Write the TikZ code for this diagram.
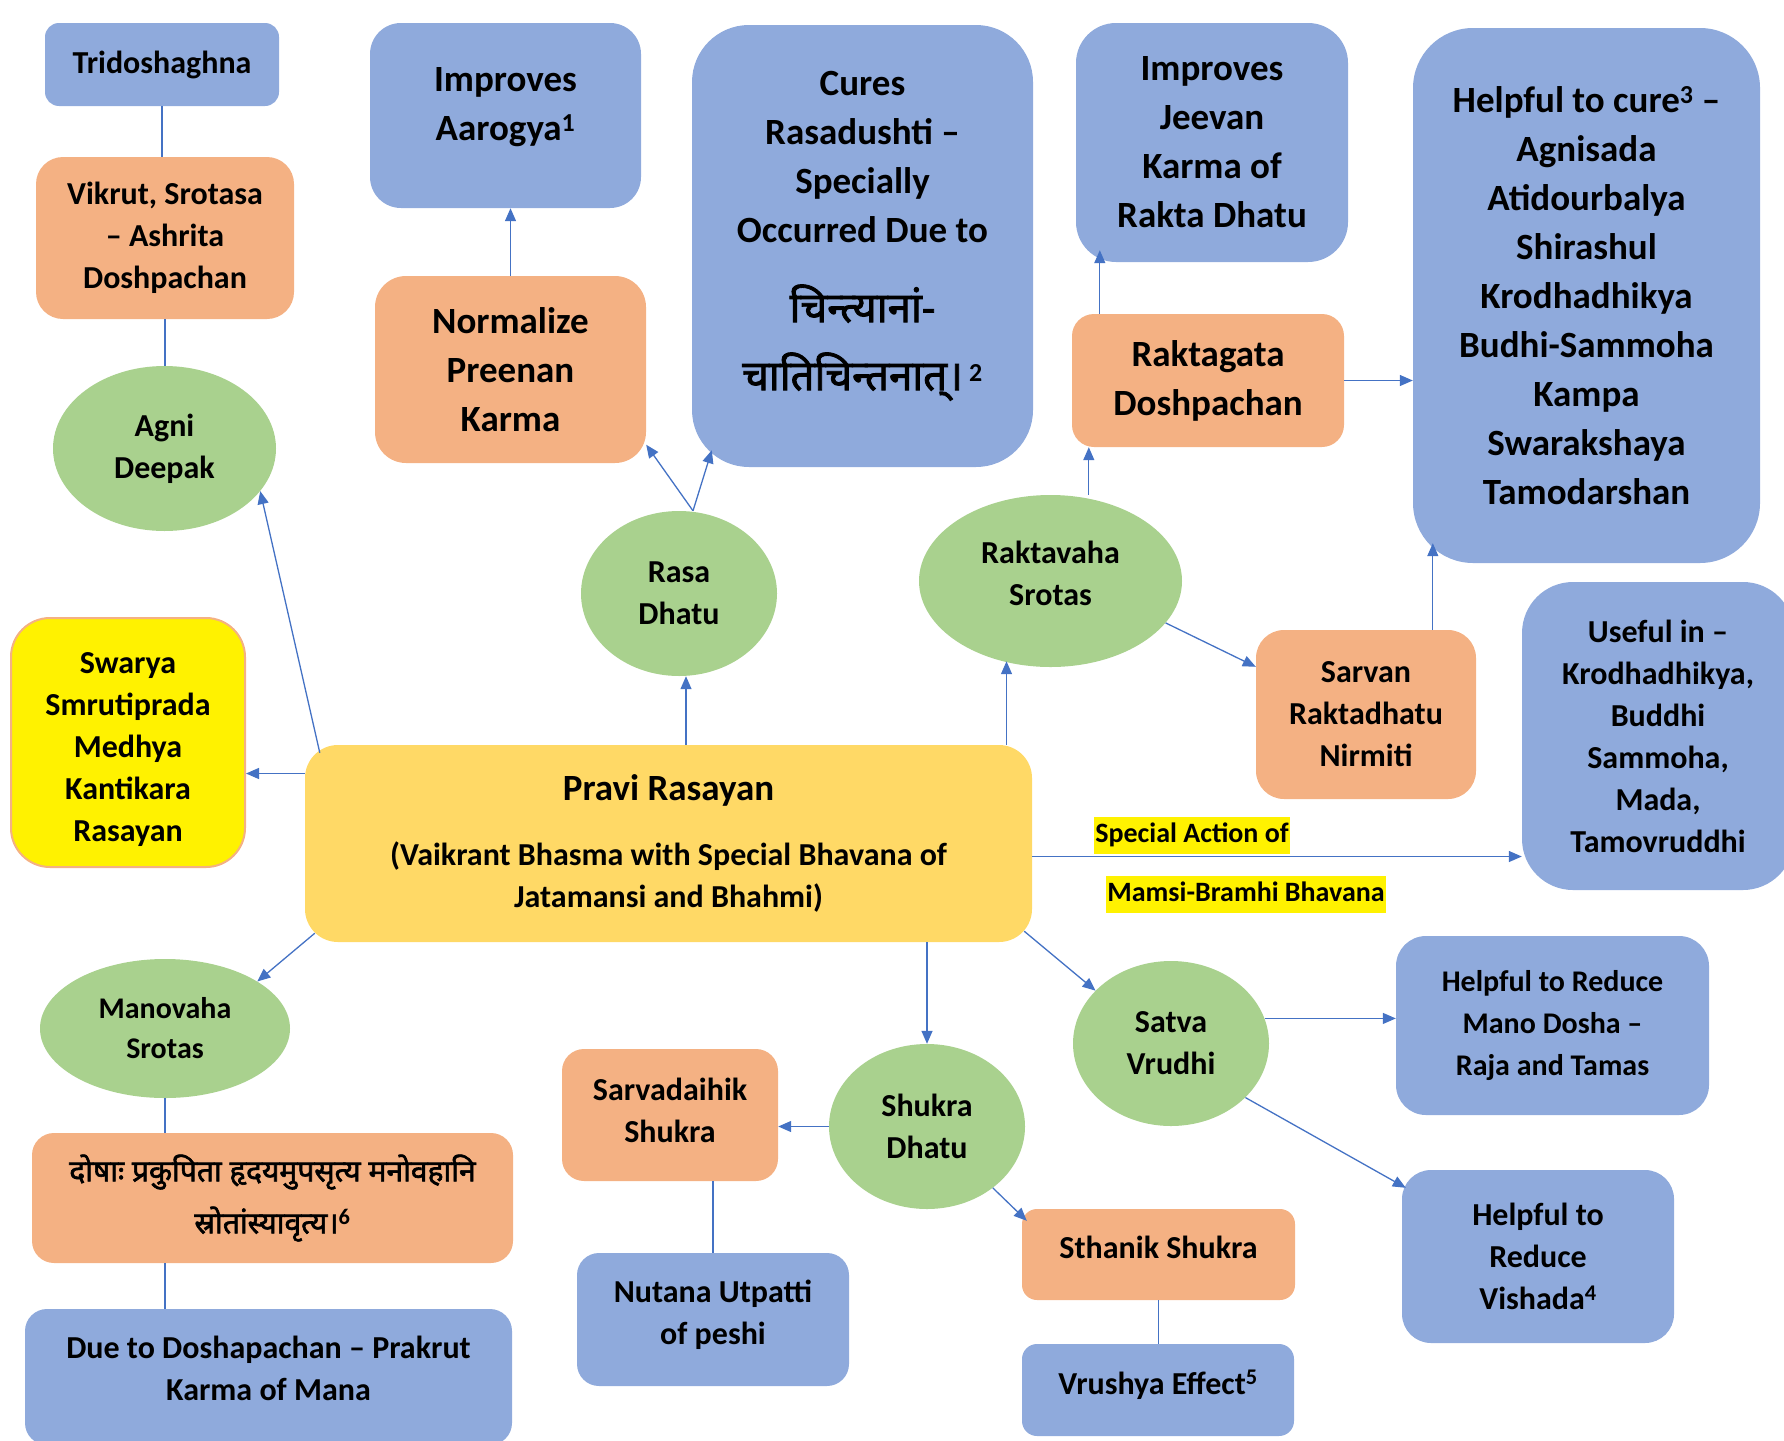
\documentclass[tikz,border=0pt]{standalone}
\usepackage{fontspec}
\setmainfont{Carlito}
\newfontfamily\deva[Script=Devanagari,BoldFont={Noto Sans},BoldFeatures={FakeBold=2}]{Noto Sans}
\usetikzlibrary{arrows.meta}
\usetikzlibrary{shapes.geometric}

\definecolor{boxblue}{HTML}{8FAADC}
\definecolor{boxorange}{HTML}{F4B183}
\definecolor{boxgreen}{HTML}{A9D18E}
\definecolor{boxgold}{HTML}{FFD966}
\definecolor{linkblue}{HTML}{4472C4}

\tikzset{
    wh/.style 2 args={minimum width=#1pt,minimum height=#2pt},
    box/.style={rectangle,align=center,inner sep=0pt,font=\bfseries\fontsize{32}{42}\selectfont},
    bluebox/.style={box,fill=boxblue},
    orangebox/.style={box,fill=boxorange},
    bubble/.style={ellipse,fill=boxgreen,align=center,inner sep=0pt,font=\bfseries\fontsize{32}{42}\selectfont},
    bigtext/.style={font=\bfseries\fontsize{37}{49}\selectfont},
    hilite/.style={fill=yellow,inner xsep=1pt,inner ysep=3.5pt,text height=22pt,text depth=8pt,font=\bfseries\fontsize{28}{34}\selectfont},
    link/.style={draw=linkblue,line width=1.3pt},
    arr/.style={link,-{Triangle[length=13pt,width=11pt]}},
}

\begin{document}
\begin{tikzpicture}[x=1pt,y=-1pt]
        \useasboundingbox (0,0) rectangle (1784,1440);

        % left column
        \node[bluebox,wh={234}{83},rounded corners=14pt] (tridosha) at (162,64.5) {Tridoshaghna};
        \node[orangebox,wh={258}{162},rounded corners=27pt] (vikrut) at (165,238) {Vikrut, Srotasa\\– Ashrita\\Doshpachan};
        \node[bubble,wh={223}{165}] (agni) at (164.5,448.5) {Agni\\Deepak};
        \node[box,fill=yellow,draw=boxorange,line width=2pt,wh={234}{249},rounded corners=39pt,text height=203pt] (swarya) at (128,742.5) {Swarya\\Smrutiprada\\Medhya\\Kantikara\\Rasayan};

        % rasa dhatu branch
        \node[bluebox,bigtext,wh={271}{185},rounded corners=31pt,text depth=22pt] (aarogya) at (505.5,115.5) {Improves\\Aarogya\textsuperscript{1}};
        \node[orangebox,bigtext,wh={271}{187},rounded corners=31pt] (preenan) at (510.5,369.5) {Normalize\\Preenan\\Karma};
        \node[bluebox,bigtext,wh={341}{442},rounded corners=57pt,text depth=31pt] (cures) at (862.5,246) {Cures\\Rasadushti –\\Specially\\Occurred Due to\\[31pt]{\deva\fontsize{42}{49}\selectfont चिन्त्यानां-}\\[19pt]{\deva\fontsize{42}{49}\selectfont चातिचिन्तनात्।}\,\textsuperscript{2}};
        \node[bubble,wh={196}{165}] (rasa) at (679,593.5) {Rasa\\Dhatu};

        % rakta branch
        \node[bluebox,bigtext,wh={272}{239},rounded corners=40pt] (jeevan) at (1212,142.5) {Improves\\Jeevan\\Karma of\\Rakta Dhatu};
        \node[orangebox,bigtext,wh={272}{133},rounded corners=22pt] (raktagata) at (1208,380.5) {Raktagata\\Doshpachan};
        \node[bluebox,bigtext,wh={347}{535},rounded corners=60pt] (cure) at (1586.5,295.5) {Helpful to cure\textsuperscript{3} –\\Agnisada\\Atidourbalya\\Shirashul\\Krodhadhikya\\Budhi-Sammoha\\Kampa\\Swarakshaya\\Tamodarshan};
        \node[bubble,wh={263}{172},text depth=16pt] (raktavaha) at (1050.5,581) {Raktavaha\\Srotas};
        \node[orangebox,wh={220}{169},rounded corners=28pt] (sarvan) at (1366,714.5) {Sarvan\\Raktadhatu\\Nirmiti};
        \node[bluebox,wh={272}{308},rounded corners=51pt] (useful) at (1658,736) {Useful in –\\Krodhadhikya,\\Buddhi\\Sammoha,\\Mada,\\Tamovruddhi};

        % centre
        \node[box,fill=boxgold,wh={727}{197},rounded corners=33pt] (pravi) at (668.5,843.5) {{\fontsize{37}{49}\selectfont Pravi Rasayan}\\[23pt](Vaikrant Bhasma with Special Bhavana of\\Jatamansi and Bhahmi)};
        \node[hilite] (action) at (1192,835) {Special Action of};
        \node[hilite] (mamsi) at (1246,894) {Mamsi-Bramhi Bhavana};

        % manovaha branch
        \node[bubble,wh={250}{139},font=\bfseries\fontsize{30}{40}\selectfont] (manovaha) at (165,1028.5) {Manovaha\\Srotas};
        \node[orangebox,wh={481}{130},rounded corners=22pt,font=\bfseries\fontsize{32}{52}\selectfont] (shloka) at (272.5,1198) {{\deva\fontsize{30}{52}\selectfont दोषाः प्रकुपिता हृदयमुपसृत्य मनोवहानि}\\{\deva\fontsize{30}{52}\selectfont स्रोतांस्यावृत्य।}\textsuperscript{6}};
        \node[bluebox,wh={487}{136},rounded corners=22pt,text depth=18pt] (manas) at (268.5,1377) {Due to Doshapachan – Prakrut\\Karma of Mana};

        % shukra branch
        \node[orangebox,wh={216}{132},rounded corners=22pt,text depth=9pt] (sarvadaihik) at (670,1115) {Sarvadaihik\\Shukra};
        \node[bubble,wh={196}{165}] (shukra) at (927,1126.5) {Shukra\\Dhatu};
        \node[bluebox,wh={272}{133},rounded corners=22pt,text depth=15pt] (nutana) at (713,1319.5) {Nutana Utpatti\\of peshi};
        \node[orangebox,wh={273}{91},rounded corners=15pt,text height=9pt] (sthanik) at (1158.5,1254.5) {Sthanik Shukra};
        \node[bluebox,wh={272}{92},rounded corners=15pt,text height=13pt] (vrushya) at (1158,1390) {Vrushya Effect\textsuperscript{5}};

        % satva branch
        \node[bubble,wh={196}{165}] (satva) at (1171,1043.5) {Satva\\Vrudhi};
        \node[bluebox,wh={313}{179},rounded corners=30pt,font=\bfseries\fontsize{30}{42}\selectfont] (manodosha) at (1552.5,1025.5) {Helpful to Reduce\\Mano Dosha –\\Raja and Tamas};
        \node[bluebox,wh={272}{173},rounded corners=29pt] (vishada) at (1538,1256.5) {Helpful to\\Reduce\\Vishada\textsuperscript{4}};

        % connectors
        \draw[link] (tridosha.south) -- (tridosha.south |- vikrut.north);
        \draw[link] (vikrut.south) -- (vikrut.south |- agni.north);
        \draw[arr] ([xshift=15pt,yshift=-8pt]pravi.north west) -- (agni.-24);
        \draw[arr] ([yshift=70pt]pravi.west) -- ([yshift=70pt]pravi.west -| swarya.east);
        \draw[arr] ([xshift=7pt]rasa.south |- pravi.north) -- ([xshift=7pt]rasa.south);
        \draw[arr] ([xshift=14pt]rasa.north) -- (preenan.-29);
        \draw[arr] ([xshift=14pt]rasa.north) -- ([xshift=20pt,yshift=17pt]cures.south west);
        \draw[arr] (preenan.north) -- (preenan.north |- aarogya.south);
        \draw[arr] ([xshift=-44pt]raktavaha.south |- pravi.north) -- ([xshift=-44pt,yshift=6pt]raktavaha.south);
        \draw[arr] ([xshift=17pt]raktagata.south west |- raktavaha.north) -- ([xshift=17pt]raktagata.south west);
        \draw[arr] ([xshift=28pt]raktagata.north west) -- ([xshift=28pt,yshift=12pt]raktagata.north west |- jeevan.south);
        \draw[arr] (raktagata.east) -- (raktagata.east -| cure.west);
        \draw[arr] (raktavaha.-20) -- ([yshift=-37pt]sarvan.north west);
        \draw[arr] ([xshift=20pt]cure.south west |- sarvan.north) -- ([xshift=20pt,yshift=20pt]cure.south west);
        \draw[arr] ([yshift=-13pt]pravi.east) -- ([yshift=-13pt]pravi.east -| useful.west);
        \draw[arr] ([xshift=10pt,yshift=9pt]pravi.south west) -- (manovaha.27);
        \draw[link] (manovaha.south) -- (manovaha.south |- shloka.north);
        \draw[link] (manovaha.south |- shloka.south) -- (manovaha.south |- manas.north);
        \draw[arr] (shukra.north |- pravi.south) -- (shukra.north);
        \draw[arr] (shukra.west) -- (shukra.west -| sarvadaihik.east);
        \draw[link] (sarvadaihik.south -| nutana.north) -- (nutana.north);
        \draw[arr] (shukra.-43) -- ([xshift=5pt,yshift=-12pt]sthanik.north west);
        \draw[link] (sthanik.south) -- (sthanik.south |- vrushya.north);
        \draw[arr] ([xshift=-8pt,yshift=11pt]pravi.south east) -- (satva.145);
        \draw[arr] (satva.15) -- (satva.15 -| manodosha.west);
        \draw[arr] (satva.-36) -- ([xshift=4pt,yshift=-18pt]vishada.north west);

    \end{tikzpicture}
\end{document}
